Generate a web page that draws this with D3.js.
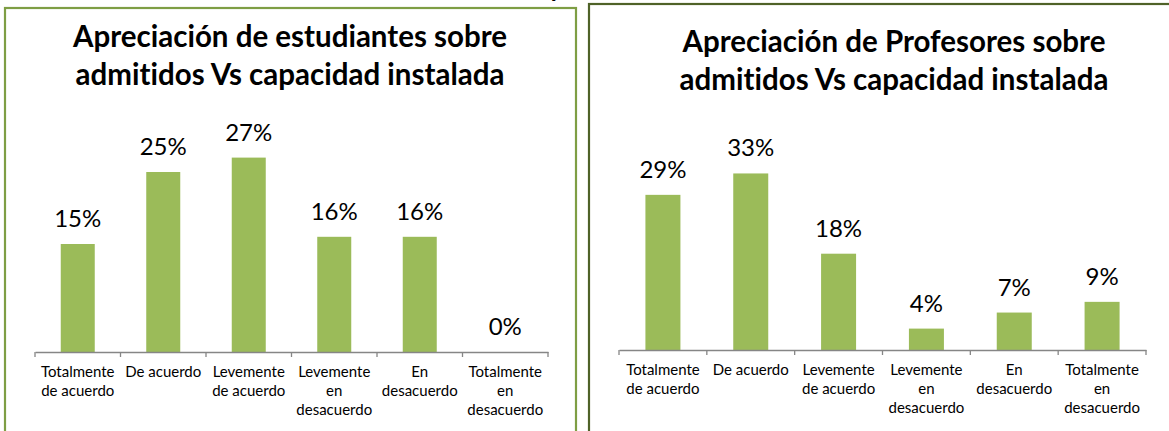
<!DOCTYPE html>
<html>
    <head>
        <title>Apreciacion admitidos</title>
        <meta charset="UTF-8">
        <script type="text/javascript" src="https://cdn.jsdelivr.net/npm/d3@7"></script>
        <style type="text/css">
            body { margin: 0; background: #fff; }
            text { font-family: Lato, "Open Sans", sans-serif; font-variant-ligatures: none; }
        </style>
    </head>
    <body>
        <div id="chart"></div>

        <script type="text/javascript">
            var svgW = 1169;
            var svgH = 431;

            // categories shared by both charts
            var categories = ["Totalmente de acuerdo", "De acuerdo", "Levemente de acuerdo",
                "Levemente en desacuerdo", "En desacuerdo", "Totalmente en desacuerdo"];

            // series values (%)
            var estudiantes = [15, 25, 27, 16, 16, 0];
            var profesores = [29, 33, 18, 4, 7, 9];

            var titleEstudiantes = ["Apreciación de estudiantes sobre", "admitidos Vs capacidad instalada"];
            var titleProfesores = ["Apreciación de Profesores sobre", "admitidos Vs capacidad instalada"];

            var barColor = "#9BBB59";
            var axisColor = "#868686";

            var svg = d3.select("#chart").append("svg")
                    .attr("width", svgW)
                    .attr("height", svgH)
                    .style("display", "block");

            svg.append("rect")
                    .attr("width", svgW)
                    .attr("height", svgH)
                    .attr("fill", "#fff");

            // bit of a heading cut off above the left panel
            svg.append("text")
                    .attr("x", 549)
                    .attr("y", -3)
                    .attr("font-size", 26)
                    .attr("font-weight", "bold")
                    .attr("fill", "#000")
                    .text("y");

            // panel frames
            svg.append("rect")
                    .attr("x", 5).attr("y", 8)
                    .attr("width", 571).attr("height", 460)
                    .attr("fill", "none")
                    .attr("stroke", "#7E9E44")
                    .attr("stroke-width", 2.2);

            svg.append("rect")
                    .attr("x", 589).attr("y", 4)
                    .attr("width", 620).attr("height", 460)
                    .attr("fill", "none")
                    .attr("stroke", "#4F6228")
                    .attr("stroke-width", 2.2);

            function drawChart(opts) {
                var g = svg.append("g");

                // one band per category, bars centred in it
                var xTick = d3.scaleBand()
                        .domain(categories)
                        .range([opts.x0, opts.x1]);

                var y = d3.scaleLinear()
                        .domain([0, opts.yMax])
                        .range([opts.axisY, opts.axisY - opts.yMax * opts.pxPer]);

                // title
                g.append("text")
                        .attr("x", opts.titleX)
                        .attr("y", opts.titleY)
                        .attr("text-anchor", "middle")
                        .attr("font-size", opts.titleSize)
                        .attr("font-weight", "bold")
                        .attr("fill", "#000")
                        .selectAll("tspan")
                        .data(opts.title)
                        .enter()
                        .append("tspan")
                        .attr("x", opts.titleX)
                        .attr("dy", function (d, i) {
                            return i === 0 ? 0 : 38;
                        })
                        .text(function (d) {
                            return d;
                        });

                // bars
                g.selectAll("rect.bar")
                        .data(opts.values)
                        .enter()
                        .append("rect")
                        .attr("class", "bar")
                        .attr("x", function (d, i) {
                            return xTick(categories[i]) + (xTick.bandwidth() - opts.barW) / 2;
                        })
                        .attr("width", opts.barW)
                        .attr("y", function (d) {
                            return y(d);
                        })
                        .attr("height", function (d) {
                            return opts.axisY - y(d);
                        })
                        .attr("fill", barColor);

                // data labels
                g.selectAll("text.val")
                        .data(opts.values)
                        .enter()
                        .append("text")
                        .attr("class", "val")
                        .attr("x", function (d, i) {
                            return xTick(categories[i]) + xTick.bandwidth() / 2;
                        })
                        .attr("y", function (d) {
                            return y(d) - 17;
                        })
                        .attr("text-anchor", "middle")
                        .attr("font-size", 24)
                        .attr("fill", "#000")
                        .text(function (d) {
                            return d + "%";
                        });

                // axis
                var axis = d3.axisBottom(xTick)
                        .tickSize(0)
                        .tickFormat("");
                var ax = g.append("g")
                        .attr("transform", "translate(0," + opts.axisY + ")")
                        .call(axis);
                ax.select(".domain").attr("stroke", axisColor).attr("stroke-width", 1.3);

                // tick marks on the band edges
                var edges = categories.map(function (c) {
                    return xTick(c);
                });
                edges.push(opts.x1);
                ax.selectAll("line.edge")
                        .data(edges)
                        .enter()
                        .append("line")
                        .attr("class", "edge")
                        .attr("x1", function (d) { return d; })
                        .attr("x2", function (d) { return d; })
                        .attr("y1", 0)
                        .attr("y2", 5)
                        .attr("stroke", axisColor)
                        .attr("stroke-width", 1.3);

                // category labels, wrapped
                categories.forEach(function (c, i) {
                    var lines = wrapWords(c, 82, 15);
                    var t = g.append("text")
                            .attr("x", xTick(c) + xTick.bandwidth() / 2)
                            .attr("y", opts.axisY + 25)
                            .attr("text-anchor", "middle")
                            .attr("font-size", 15)
                            .attr("fill", "#000");
                    lines.forEach(function (ln, k) {
                        t.append("tspan")
                                .attr("x", xTick(c) + xTick.bandwidth() / 2)
                                .attr("dy", k === 0 ? 0 : 19)
                                .text(ln);
                    });
                });
            }

            // greedy wrap measured with a hidden text element
            var measure = svg.append("text").attr("visibility", "hidden");
            function wrapWords(str, maxW, size) {
                measure.attr("font-size", size);
                var words = str.split(" ");
                var lines = [];
                var cur = "";
                words.forEach(function (w) {
                    var test = cur ? cur + " " + w : w;
                    measure.text(test);
                    if (cur && measure.node().getComputedTextLength() > maxW) {
                        lines.push(cur);
                        cur = w;
                    } else {
                        cur = test;
                    }
                });
                lines.push(cur);
                return lines;
            }

            drawChart({
                values: estudiantes,
                title: titleEstudiantes,
                titleX: 290, titleY: 47, titleSize: 29.5,
                x0: 35, x1: 548,
                axisY: 352, yMax: 30, pxPer: 7.2, barW: 34
            });

            drawChart({
                values: profesores,
                title: titleProfesores,
                titleX: 894, titleY: 52, titleSize: 29.5,
                x0: 619, x1: 1146,
                axisY: 350, yMax: 35, pxPer: 5.35, barW: 35
            });
        </script>
    </body>
</html>
